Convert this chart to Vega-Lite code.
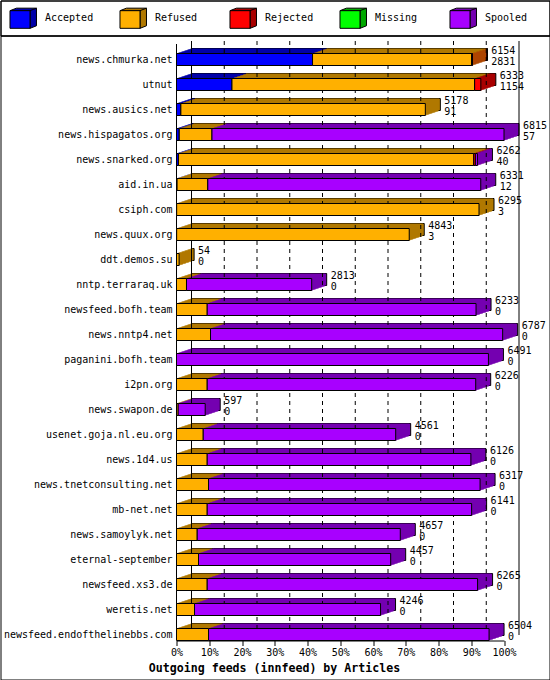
{
  "$schema": "https://vega.github.io/schema/vega-lite/v6.json",
  "autosize": "none",
  "width": 549,
  "height": 644,
  "padding": {"left": 0.5, "top": 35.5, "right": 0.5, "bottom": 0.5},
  "background": "white",
  "config": {
    "font": "DejaVu Sans Mono",
    "view": {"stroke": "black", "strokeWidth": 1, "fill": "white"},
    "legend": {
      "orient": "none", "legendX": 0, "legendY": -35, "direction": "horizontal", "columns": 5,
      "gridAlign": "all", "padding": 5, "columnPadding": 11, "labelOffset": 14.5,
      "symbolSize": 576, "symbolStrokeWidth": 1, "symbolStrokeColor": "black", "symbolOpacity": 1,
      "labelFont": "DejaVu Sans Mono", "labelFontSize": 10, "labelColor": "black", "strokeColor": "black"
    }
  },
  "datasets": {
    "bars": [
      {"f": "news.chmurka.net", "c": "Accepted", "n": 2831, "o": 1},
      {"f": "news.chmurka.net", "c": "Refused", "n": 3313, "o": 2},
      {"f": "news.chmurka.net", "c": "Rejected", "n": 10, "o": 3},
      {"f": "news.chmurka.net", "c": "Missing", "n": 0, "o": 4},
      {"f": "utnut", "c": "Accepted", "n": 1154, "o": 1},
      {"f": "utnut", "c": "Refused", "n": 5050, "o": 2},
      {"f": "utnut", "c": "Rejected", "n": 129, "o": 3},
      {"f": "news.ausics.net", "c": "Accepted", "n": 91, "o": 1},
      {"f": "news.ausics.net", "c": "Refused", "n": 5087, "o": 2},
      {"f": "news.hispagatos.org", "c": "Accepted", "n": 57, "o": 1},
      {"f": "news.hispagatos.org", "c": "Refused", "n": 681, "o": 2},
      {"f": "news.hispagatos.org", "c": "Spooled", "n": 6077, "o": 5},
      {"f": "news.snarked.org", "c": "Accepted", "n": 40, "o": 1},
      {"f": "news.snarked.org", "c": "Refused", "n": 6145, "o": 2},
      {"f": "news.snarked.org", "c": "Rejected", "n": 35, "o": 3},
      {"f": "news.snarked.org", "c": "Spooled", "n": 42, "o": 5},
      {"f": "aid.in.ua", "c": "Accepted", "n": 12, "o": 1},
      {"f": "aid.in.ua", "c": "Refused", "n": 639, "o": 2},
      {"f": "aid.in.ua", "c": "Spooled", "n": 5680, "o": 5},
      {"f": "csiph.com", "c": "Accepted", "n": 3, "o": 1},
      {"f": "csiph.com", "c": "Refused", "n": 6292, "o": 2},
      {"f": "news.quux.org", "c": "Accepted", "n": 3, "o": 1},
      {"f": "news.quux.org", "c": "Refused", "n": 4840, "o": 2},
      {"f": "ddt.demos.su", "c": "Refused", "n": 54, "o": 2},
      {"f": "nntp.terraraq.uk", "c": "Refused", "n": 208, "o": 2},
      {"f": "nntp.terraraq.uk", "c": "Spooled", "n": 2605, "o": 5},
      {"f": "newsfeed.bofh.team", "c": "Refused", "n": 639, "o": 2},
      {"f": "newsfeed.bofh.team", "c": "Spooled", "n": 5594, "o": 5},
      {"f": "news.nntp4.net", "c": "Refused", "n": 708, "o": 2},
      {"f": "news.nntp4.net", "c": "Spooled", "n": 6079, "o": 5},
      {"f": "paganini.bofh.team", "c": "Spooled", "n": 6491, "o": 5},
      {"f": "i2pn.org", "c": "Refused", "n": 639, "o": 2},
      {"f": "i2pn.org", "c": "Spooled", "n": 5587, "o": 5},
      {"f": "news.swapon.de", "c": "Refused", "n": 35, "o": 2},
      {"f": "news.swapon.de", "c": "Spooled", "n": 562, "o": 5},
      {"f": "usenet.goja.nl.eu.org", "c": "Refused", "n": 556, "o": 2},
      {"f": "usenet.goja.nl.eu.org", "c": "Spooled", "n": 4005, "o": 5},
      {"f": "news.1d4.us", "c": "Refused", "n": 639, "o": 2},
      {"f": "news.1d4.us", "c": "Spooled", "n": 5487, "o": 5},
      {"f": "news.tnetconsulting.net", "c": "Refused", "n": 667, "o": 2},
      {"f": "news.tnetconsulting.net", "c": "Spooled", "n": 5650, "o": 5},
      {"f": "mb-net.net", "c": "Refused", "n": 639, "o": 2},
      {"f": "mb-net.net", "c": "Spooled", "n": 5502, "o": 5},
      {"f": "news.samoylyk.net", "c": "Refused", "n": 431, "o": 2},
      {"f": "news.samoylyk.net", "c": "Spooled", "n": 4226, "o": 5},
      {"f": "eternal-september", "c": "Refused", "n": 458, "o": 2},
      {"f": "eternal-september", "c": "Spooled", "n": 3999, "o": 5},
      {"f": "newsfeed.xs3.de", "c": "Refused", "n": 639, "o": 2},
      {"f": "newsfeed.xs3.de", "c": "Spooled", "n": 5626, "o": 5},
      {"f": "weretis.net", "c": "Refused", "n": 375, "o": 2},
      {"f": "weretis.net", "c": "Spooled", "n": 3871, "o": 5},
      {"f": "newsfeed.endofthelinebbs.com", "c": "Refused", "n": 667, "o": 2},
      {"f": "newsfeed.endofthelinebbs.com", "c": "Spooled", "n": 5837, "o": 5}
    ],
    "totals": [
      {"f": "news.chmurka.net", "t": 6154, "a": 2831},
      {"f": "utnut", "t": 6333, "a": 1154},
      {"f": "news.ausics.net", "t": 5178, "a": 91},
      {"f": "news.hispagatos.org", "t": 6815, "a": 57},
      {"f": "news.snarked.org", "t": 6262, "a": 40},
      {"f": "aid.in.ua", "t": 6331, "a": 12},
      {"f": "csiph.com", "t": 6295, "a": 3},
      {"f": "news.quux.org", "t": 4843, "a": 3},
      {"f": "ddt.demos.su", "t": 54, "a": 0},
      {"f": "nntp.terraraq.uk", "t": 2813, "a": 0},
      {"f": "newsfeed.bofh.team", "t": 6233, "a": 0},
      {"f": "news.nntp4.net", "t": 6787, "a": 0},
      {"f": "paganini.bofh.team", "t": 6491, "a": 0},
      {"f": "i2pn.org", "t": 6226, "a": 0},
      {"f": "news.swapon.de", "t": 597, "a": 0},
      {"f": "usenet.goja.nl.eu.org", "t": 4561, "a": 0},
      {"f": "news.1d4.us", "t": 6126, "a": 0},
      {"f": "news.tnetconsulting.net", "t": 6317, "a": 0},
      {"f": "mb-net.net", "t": 6141, "a": 0},
      {"f": "news.samoylyk.net", "t": 4657, "a": 0},
      {"f": "eternal-september", "t": 4457, "a": 0},
      {"f": "newsfeed.xs3.de", "t": 6265, "a": 0},
      {"f": "weretis.net", "t": 4246, "a": 0},
      {"f": "newsfeed.endofthelinebbs.com", "t": 6504, "a": 0}
    ]
  },
  "layer": [
    {
      "data": {"name": "bars"},
      "mark": {"type": "bar", "height": 12, "xOffset": 15, "yOffset": -5, "stroke": "black", "strokeWidth": 1},
      "encoding": {
        "y": {"field": "f", "type": "nominal",
          "scale": {"domain": ["news.chmurka.net","utnut","news.ausics.net","news.hispagatos.org","news.snarked.org","aid.in.ua","csiph.com","news.quux.org","ddt.demos.su","nntp.terraraq.uk","newsfeed.bofh.team","news.nntp4.net","paganini.bofh.team","i2pn.org","news.swapon.de","usenet.goja.nl.eu.org","news.1d4.us","news.tnetconsulting.net","mb-net.net","news.samoylyk.net","eternal-september","newsfeed.xs3.de","weretis.net","newsfeed.endofthelinebbs.com"],
            "range": [11.5, 611.5], "paddingInner": 0, "paddingOuter": 0},
          "axis": {"orient": "left", "offset": -171.5, "title": null, "domain": false, "ticks": false, "tickSize": 0, "labelPadding": 0, "grid": false,
            "labelFont": "DejaVu Sans Mono", "labelFontSize": 10, "labelColor": "black", "labelBaseline": "alphabetic", "labelOffset": 3, "labelLimit": 0}},
        "x": {"field": "n", "type": "quantitative", "stack": "zero",
          "scale": {"domain": [0, 6815], "range": [176, 503.5], "nice": false, "zero": true},
          "axis": {"orient": "bottom", "offset": -39, "grid": false, "values": [0, 681.5, 1363, 2044.5, 2726, 3407.5, 4089, 4770.5, 5452, 6133.5, 6815],
            "labelExpr": "format(datum.value / 6815, '.0%')", "tickSize": 5, "tickColor": "black", "domainColor": "black",
            "labelPadding": 10, "labelBaseline": "alphabetic", "labelFont": "DejaVu Sans Mono", "labelFontSize": 10, "labelColor": "black",
            "labelFlush": false, "labelOverlap": false,
            "title": "Outgoing feeds (innfeed) by Articles", "titleFont": "DejaVu Sans Mono", "titleFontWeight": "bold", "titleFontSize": 11.6,
            "titleColor": "black", "titleX": 273.5, "titleY": 30.5, "titleAlign": "center", "titleBaseline": "alphabetic"}},
        "fill": {"field": "c", "type": "nominal", "sort": null,
          "scale": {"range": ["#0000a8", "#b07800", "#a80000", "#00a800", "#7400b0"]},
          "legend": {"title": null, "labelOpacity": 0,
            "symbolType": "M-0.667,-0.61L-0.125,-0.82L1.54,-0.82L1.54,0.65L1,0.86L1,-0.61ZM1,-0.61L1.54,-0.82M-0.875,-0.875M-0.875,0.875M7.04,0"}},
        "order": {"field": "o", "type": "quantitative"}
      }
    },
    {"data": {"name": "bars"}, "mark": {"type": "bar", "height": 12, "xOffset": 14, "yOffset": -5, "strokeWidth": 0},
      "encoding": {"y": {"field": "f", "type": "nominal"}, "x": {"field": "n", "type": "quantitative", "stack": "zero"}, "fill": {"field": "c", "type": "nominal", "sort": null}, "order": {"field": "o", "type": "quantitative"}}},
    {"data": {"name": "bars"}, "mark": {"type": "bar", "height": 12, "xOffset": 13, "yOffset": -4, "strokeWidth": 0},
      "encoding": {"y": {"field": "f", "type": "nominal"}, "x": {"field": "n", "type": "quantitative", "stack": "zero"}, "fill": {"field": "c", "type": "nominal", "sort": null}, "order": {"field": "o", "type": "quantitative"}}},
    {"data": {"name": "bars"}, "mark": {"type": "bar", "height": 12, "xOffset": 12, "yOffset": -4, "strokeWidth": 0},
      "encoding": {"y": {"field": "f", "type": "nominal"}, "x": {"field": "n", "type": "quantitative", "stack": "zero"}, "fill": {"field": "c", "type": "nominal", "sort": null}, "order": {"field": "o", "type": "quantitative"}}},
    {"data": {"name": "bars"}, "mark": {"type": "bar", "height": 12, "xOffset": 11, "yOffset": -4, "strokeWidth": 0},
      "encoding": {"y": {"field": "f", "type": "nominal"}, "x": {"field": "n", "type": "quantitative", "stack": "zero"}, "fill": {"field": "c", "type": "nominal", "sort": null}, "order": {"field": "o", "type": "quantitative"}}},
    {"data": {"name": "bars"}, "mark": {"type": "bar", "height": 12, "xOffset": 10, "yOffset": -3, "strokeWidth": 0},
      "encoding": {"y": {"field": "f", "type": "nominal"}, "x": {"field": "n", "type": "quantitative", "stack": "zero"}, "fill": {"field": "c", "type": "nominal", "sort": null}, "order": {"field": "o", "type": "quantitative"}}},
    {"data": {"name": "bars"}, "mark": {"type": "bar", "height": 12, "xOffset": 9, "yOffset": -3, "strokeWidth": 0},
      "encoding": {"y": {"field": "f", "type": "nominal"}, "x": {"field": "n", "type": "quantitative", "stack": "zero"}, "fill": {"field": "c", "type": "nominal", "sort": null}, "order": {"field": "o", "type": "quantitative"}}},
    {"data": {"name": "bars"}, "mark": {"type": "bar", "height": 12, "xOffset": 8, "yOffset": -3, "strokeWidth": 0},
      "encoding": {"y": {"field": "f", "type": "nominal"}, "x": {"field": "n", "type": "quantitative", "stack": "zero"}, "fill": {"field": "c", "type": "nominal", "sort": null}, "order": {"field": "o", "type": "quantitative"}}},
    {"data": {"name": "bars"}, "mark": {"type": "bar", "height": 12, "xOffset": 7, "yOffset": -2, "strokeWidth": 0},
      "encoding": {"y": {"field": "f", "type": "nominal"}, "x": {"field": "n", "type": "quantitative", "stack": "zero"}, "fill": {"field": "c", "type": "nominal", "sort": null}, "order": {"field": "o", "type": "quantitative"}}},
    {"data": {"name": "bars"}, "mark": {"type": "bar", "height": 12, "xOffset": 6, "yOffset": -2, "strokeWidth": 0},
      "encoding": {"y": {"field": "f", "type": "nominal"}, "x": {"field": "n", "type": "quantitative", "stack": "zero"}, "fill": {"field": "c", "type": "nominal", "sort": null}, "order": {"field": "o", "type": "quantitative"}}},
    {"data": {"name": "bars"}, "mark": {"type": "bar", "height": 12, "xOffset": 5, "yOffset": -2, "strokeWidth": 0},
      "encoding": {"y": {"field": "f", "type": "nominal"}, "x": {"field": "n", "type": "quantitative", "stack": "zero"}, "fill": {"field": "c", "type": "nominal", "sort": null}, "order": {"field": "o", "type": "quantitative"}}},
    {"data": {"name": "bars"}, "mark": {"type": "bar", "height": 12, "xOffset": 4, "yOffset": -1, "strokeWidth": 0},
      "encoding": {"y": {"field": "f", "type": "nominal"}, "x": {"field": "n", "type": "quantitative", "stack": "zero"}, "fill": {"field": "c", "type": "nominal", "sort": null}, "order": {"field": "o", "type": "quantitative"}}},
    {"data": {"name": "bars"}, "mark": {"type": "bar", "height": 12, "xOffset": 3, "yOffset": -1, "strokeWidth": 0},
      "encoding": {"y": {"field": "f", "type": "nominal"}, "x": {"field": "n", "type": "quantitative", "stack": "zero"}, "fill": {"field": "c", "type": "nominal", "sort": null}, "order": {"field": "o", "type": "quantitative"}}},
    {"data": {"name": "bars"}, "mark": {"type": "bar", "height": 12, "xOffset": 2, "yOffset": -1, "strokeWidth": 0},
      "encoding": {"y": {"field": "f", "type": "nominal"}, "x": {"field": "n", "type": "quantitative", "stack": "zero"}, "fill": {"field": "c", "type": "nominal", "sort": null}, "order": {"field": "o", "type": "quantitative"}}},
    {"data": {"name": "bars"}, "mark": {"type": "bar", "height": 12, "xOffset": 1, "yOffset": 0, "strokeWidth": 0},
      "encoding": {"y": {"field": "f", "type": "nominal"}, "x": {"field": "n", "type": "quantitative", "stack": "zero"}, "fill": {"field": "c", "type": "nominal", "sort": null}, "order": {"field": "o", "type": "quantitative"}}},
    {
      "data": {"values": [{"g": 681.5}, {"g": 1363}, {"g": 2044.5}, {"g": 2726}, {"g": 3407.5}, {"g": 4089}, {"g": 4770.5}, {"g": 5452}, {"g": 6133.5}]},
      "mark": {"type": "rule", "color": "black", "strokeWidth": 1, "strokeDash": [4, 4], "xOffset": 15, "yOffset": -18.5, "y2Offset": 0.5},
      "encoding": {
        "x": {"field": "g", "type": "quantitative"},
        "y": {"datum": "news.chmurka.net", "type": "nominal"},
        "y2": {"datum": "newsfeed.endofthelinebbs.com"}
      }
    },
    {
      "data": {"values": [{"g": 0}, {"g": 6815}]},
      "mark": {"type": "rule", "color": "black", "strokeWidth": 1, "xOffset": 15, "yOffset": -18.5, "y2Offset": 0.5},
      "encoding": {
        "x": {"field": "g", "type": "quantitative"},
        "y": {"datum": "news.chmurka.net", "type": "nominal"},
        "y2": {"datum": "newsfeed.endofthelinebbs.com"}
      }
    },
    {
      "data": {"values": [{"g": 0}]},
      "mark": {"type": "rule", "color": "black", "strokeWidth": 1, "yOffset": -15.5, "y2Offset": 5.5},
      "encoding": {
        "x": {"field": "g", "type": "quantitative"},
        "y": {"datum": "news.chmurka.net", "type": "nominal"},
        "y2": {"datum": "newsfeed.endofthelinebbs.com"}
      }
    },
    {
      "data": {"name": "bars"},
      "mark": {"type": "bar", "height": 12, "stroke": "black", "strokeWidth": 1},
      "encoding": {
        "y": {"field": "f", "type": "nominal"},
        "x": {"field": "n", "type": "quantitative", "stack": "zero"},
        "color": {"field": "c", "type": "nominal",
          "scale": {"domain": ["Accepted", "Refused", "Rejected", "Missing", "Spooled"], "range": ["#0000ff", "#ffb000", "#ff0000", "#00ff00", "#a800ff"]},
          "legend": {"title": null,
            "symbolType": "M-0.667,-0.61L1,-0.61L1,0.86L-0.667,0.86ZM-0.875,-0.875M-0.875,0.875M7.04,0"}},
        "order": {"field": "o", "type": "quantitative"}
      }
    },
    {
      "data": {"name": "totals"},
      "mark": {"type": "text", "align": "left", "baseline": "alphabetic", "xOffset": 19, "yOffset": -6, "font": "DejaVu Sans Mono", "fontSize": 10, "color": "black"},
      "encoding": {
        "y": {"field": "f", "type": "nominal"},
        "x": {"field": "t", "type": "quantitative"},
        "text": {"field": "t", "type": "quantitative", "format": "d"}
      }
    },
    {
      "data": {"name": "totals"},
      "mark": {"type": "text", "align": "left", "baseline": "alphabetic", "xOffset": 19, "yOffset": 5, "font": "DejaVu Sans Mono", "fontSize": 10, "color": "black"},
      "encoding": {
        "y": {"field": "f", "type": "nominal"},
        "x": {"field": "t", "type": "quantitative"},
        "text": {"field": "a", "type": "quantitative", "format": "d"}
      }
    }
  ]
}
